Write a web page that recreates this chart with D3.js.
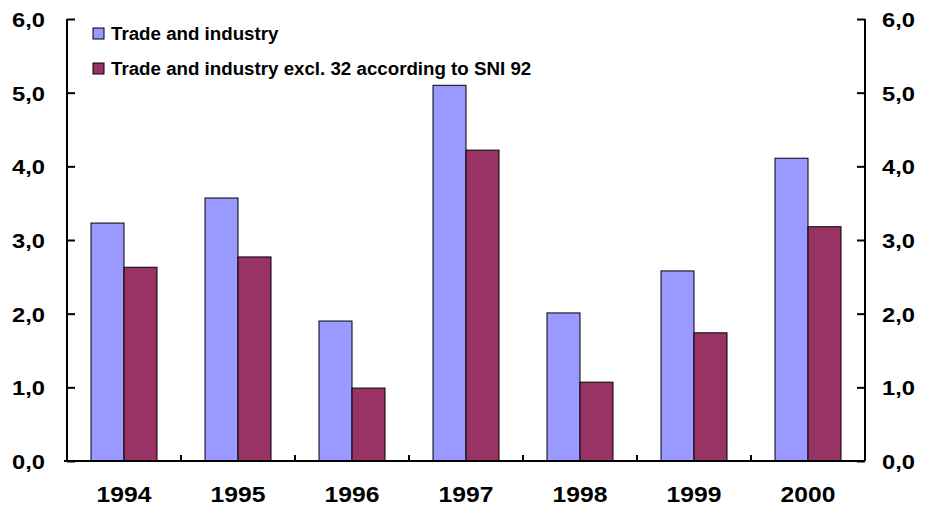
<!DOCTYPE html>
<html>
<head>
<meta charset="utf-8">
<script src="https://cdn.jsdelivr.net/npm/d3@7"></script>
<style>
  body { margin: 0; background: #fff; }
  svg text { font-family: "Liberation Sans", Arial, sans-serif; font-weight: bold; fill: #000; }
</style>
</head>
<body>
<div id="chart"></div>
<script>
// data
const years = ["1994", "1995", "1996", "1997", "1998", "1999", "2000"];
const seriesNames = ["Trade and industry", "Trade and industry excl. 32 according to SNI 92"];
const tradeIndustry = [3.23, 3.57, 1.90, 5.10, 2.01, 2.58, 4.11];
const tradeIndustryExcl = [2.63, 2.77, 0.99, 4.22, 1.07, 1.74, 3.18];
const yTicks = [0, 1, 2, 3, 4, 5, 6];
const seriesColors = ["#9999FF", "#993366"];

const width = 925, height = 508;
const margin = { top: 19, right: 60, bottom: 47, left: 67 };
const innerWidth = width - margin.left - margin.right;
const innerHeight = height - margin.top - margin.bottom;

const svg = d3.select("#chart").append("svg")
    .attr("width", width)
    .attr("height", height);

const chart = svg.append("g")
    .attr("transform", `translate(${margin.left}, ${margin.top})`);

const x0 = d3.scaleBand().domain(years).range([0, innerWidth]);
const groupWidth = 66;
const x1 = d3.scaleBand().domain([0, 1]).range([0, groupWidth]);
const y = d3.scaleLinear().domain([0, 6]).range([innerHeight, 0]);

const fmt = d => d.toFixed(1).replace(".", ",");

// the original text is a bit wider than Liberation Sans, stretch it horizontally
function stretch(sel, sx) {
    sel.each(function () {
        const t = d3.select(this);
        const tx = +t.attr("x") || 0;
        t.attr("x", 0).attr("transform", `translate(${tx},0) scale(${sx},1)`);
    });
}

// bars
const rows = years.map((yr, i) => ({ year: yr, values: [tradeIndustry[i], tradeIndustryExcl[i]] }));
const groups = chart.selectAll("g.year").data(rows).join("g")
    .attr("class", "year")
    .attr("transform", d => `translate(${x0(d.year) + (x0.bandwidth() - groupWidth) / 2}, 0)`);

groups.selectAll("rect").data(d => d.values.map((v, k) => ({ k, v }))).join("rect")
    .attr("x", d => x1(d.k))
    .attr("y", d => y(d.v))
    .attr("width", x1.bandwidth())
    .attr("height", d => y(0) - y(d.v))
    .attr("fill", d => seriesColors[d.k])
    .attr("stroke", "#000")
    .attr("stroke-width", 1);

// left axis
const leftAxis = chart.append("g")
    .call(d3.axisLeft(y).tickValues(yTicks).tickFormat(fmt).tickSize(-8).tickPadding(22));

// right axis
const rightAxis = chart.append("g")
    .attr("transform", `translate(${innerWidth}, 0)`)
    .call(d3.axisRight(y).tickValues(yTicks).tickFormat(fmt).tickSize(-8).tickPadding(17));

[leftAxis, rightAxis].forEach(g => {
    g.select(".domain").attr("stroke", "#000").attr("stroke-width", 2).attr("d", `M0,0V${innerHeight}`);
    g.selectAll(".tick line").attr("stroke", "#000").attr("stroke-width", 2);
    g.selectAll(".tick text").attr("font-size", "21px").attr("dy", "0.35em").call(stretch, 1.13);
});

// bottom axis
const xAxis = chart.append("g")
    .attr("transform", `translate(0, ${innerHeight})`)
    .call(d3.axisBottom(x0).tickSize(0).tickPadding(25));
xAxis.select(".domain").attr("stroke", "#000").attr("stroke-width", 2).attr("d", `M-3,0H${innerWidth}`);
xAxis.selectAll(".tick text").attr("font-size", "22px").call(stretch, 1.12);

xAxis.selectAll("line.sep").data(years.slice(1)).join("line")
    .attr("class", "sep")
    .attr("x1", d => x0(d)).attr("x2", d => x0(d))
    .attr("y1", 0).attr("y2", -6)
    .attr("stroke", "#000").attr("stroke-width", 2);

// legend
const legend = svg.append("g").attr("transform", "translate(93, 28)");
seriesNames.forEach((name, i) => {
    const g = legend.append("g").attr("transform", `translate(0, ${i * 35})`);
    g.append("rect").attr("width", 11).attr("height", 11)
        .attr("fill", seriesColors[i]).attr("stroke", "#000").attr("stroke-width", 1);
    g.append("text").attr("x", 18).attr("y", 6).attr("dy", "0.35em")
        .attr("font-size", "18px").text(name).call(stretch, 1.04);
});
</script>
</body>
</html>
